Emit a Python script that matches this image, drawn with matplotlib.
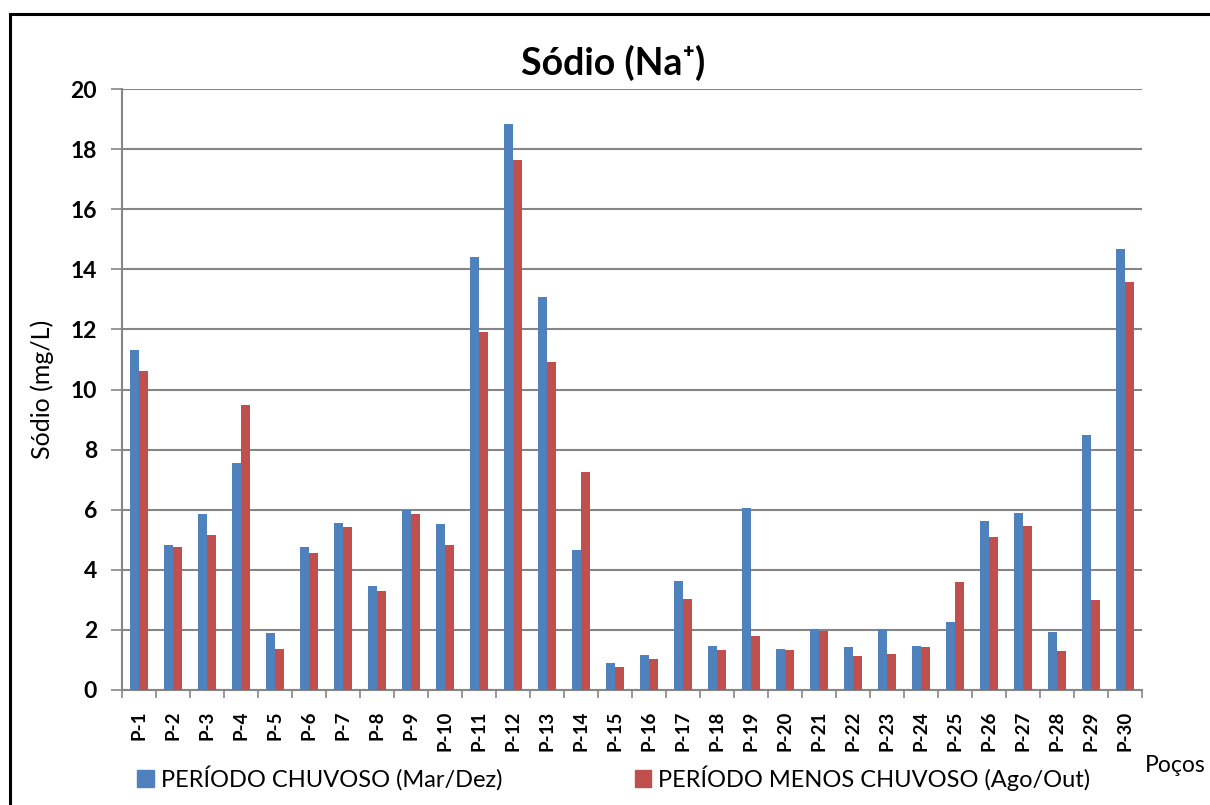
import numpy as np
import matplotlib
matplotlib.use("Agg")
import matplotlib.pyplot as plt
from matplotlib.lines import Line2D
from matplotlib.patches import Patch

pocos = ["P-%d" % i for i in range(1, 31)]
chuvoso = [11.32, 4.82, 5.86, 7.55, 1.89, 4.75, 5.55, 3.46, 5.99, 5.53,
           14.41, 18.83, 13.08, 4.66, 0.89, 1.16, 3.62, 1.46, 6.05, 1.36,
           2.03, 1.43, 2.03, 1.46, 2.26, 5.62, 5.88, 1.92, 8.49, 14.67]
menos_chuvoso = [10.62, 4.75, 5.16, 9.49, 1.36, 4.55, 5.42, 3.29, 5.86, 4.82,
                 11.91, 17.63, 10.91, 7.25, 0.76, 1.03, 3.03, 1.33, 1.79, 1.33,
                 1.96, 1.13, 1.20, 1.43, 3.59, 5.09, 5.46, 1.29, 2.99, 13.58]
yticks = [0, 2, 4, 6, 8, 10, 12, 14, 16, 18, 20]

azul = "#4F81BD"
vermelho = "#C0504D"
cinza = "#868686"
fonte = ["Lato", "DejaVu Sans"]


def main():
    plt.rcParams["font.family"] = fonte
    fig = plt.figure(figsize=(12.1, 8.05), dpi=100)
    ax = fig.add_axes([122 / 1210, 1 - 690 / 805, 1020 / 1210, 601 / 805])

    x = np.arange(len(pocos))
    w = 0.26
    ax.bar(x - w / 2, chuvoso, w, color=azul, zorder=3)
    ax.bar(x + w / 2, menos_chuvoso, w, color=vermelho, zorder=3)

    ax.set_xlim(-0.5, len(pocos) - 0.5)
    ax.set_ylim(0, 20)
    ax.set_yticks(yticks)
    ax.set_yticklabels([str(v) for v in yticks], fontsize=16.5, fontweight="bold")
    ax.yaxis.grid(True, color=cinza, linewidth=1.5, zorder=0)
    ax.tick_params(axis="y", length=8, width=1.2, color=cinza, pad=10)

    ax.set_xticks(x)
    ax.set_xticklabels(pocos, rotation=90, fontsize=13.5, fontweight="bold")
    ax.tick_params(axis="x", which="major", length=0, pad=15)
    ax.set_xticks(np.arange(-0.5, len(pocos), 1.0), minor=True)
    ax.tick_params(axis="x", which="minor", length=6, width=1.2, color=cinza)

    for s in ("top", "right"):
        ax.spines[s].set_visible(False)
    for s in ("left", "bottom"):
        ax.spines[s].set_color(cinza)
        ax.spines[s].set_linewidth(1.5)

    ax.set_ylabel("Sódio (mg/L)", fontsize=18)
    ax.yaxis.set_label_coords(-68 / 1020, 0.5)

    fig.text(0.507, 1 - 63 / 805, "Sódio (Na⁺)", ha="center", va="center",
             fontsize=27, fontweight="bold", family=fonte)
    fig.text(1206 / 1210, 1 - 765 / 805, "Poços", ha="right", va="center", fontsize=16.5)

    handles = [Patch(color=azul), Patch(color=vermelho)]
    fig.legend(handles, ["PERÍODO CHUVOSO (Mar/Dez)", "PERÍODO MENOS CHUVOSO (Ago/Out)"],
               loc="center left", bbox_to_anchor=(116 / 1210, 1 - 778 / 805), ncol=2,
               frameon=False, fontsize=17, handlelength=0.7, handleheight=0.7,
               handletextpad=0.3, columnspacing=5.6)

    fig.add_artist(Line2D([9.5 / 1210, 9.5 / 1210], [0, 1 - 14 / 805], color="black",
                          linewidth=2.2, transform=fig.transFigure))
    fig.add_artist(Line2D([9.5 / 1210, 1], [1 - 14 / 805, 1 - 14 / 805], color="black",
                          linewidth=2.2, transform=fig.transFigure))

    fig.savefig("out.png", dpi=100)


if __name__ == "__main__":
    main()
